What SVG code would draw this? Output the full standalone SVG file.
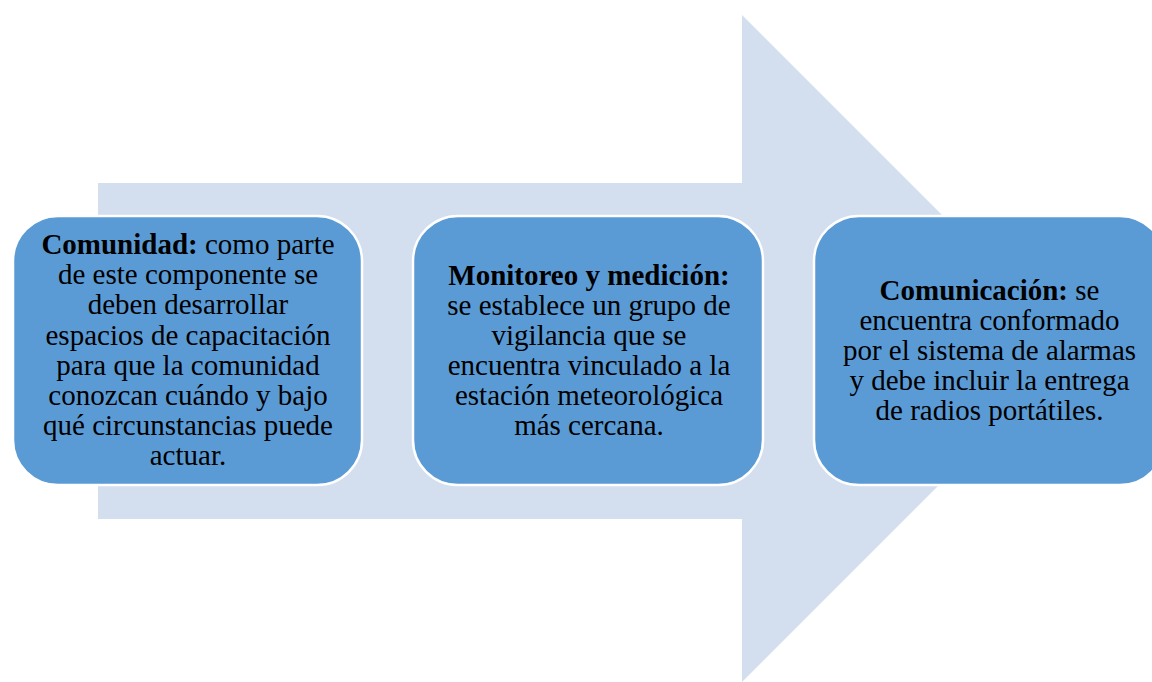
<svg xmlns="http://www.w3.org/2000/svg" width="1152" height="682" viewBox="0 0 1152 682">
<style>
.box{fill:#5B9BD5;stroke:#FFFFFF;stroke-width:2.5}
text{font-family:"Liberation Serif","Times New Roman","DejaVu Serif",serif;font-size:29px;fill:#000;text-anchor:middle}
.b{font-weight:bold}
</style>
<rect width="1152" height="682" fill="#FFFFFF"/>
<g id="arrow">
<path d="M98,183 L742,183 L742,15 L1075.5,348.5 L742,682 L742,519 L98,519 Z" fill="#D3DEEF"/>
</g>
<g id="node1" font-family="Liberation Serif, serif">
<rect class="box" x="13" y="216" width="349" height="269" rx="45" ry="45"/>
<text x="188" y="254"><tspan class="b">Comunidad:</tspan> como parte</text>
<text x="188" y="284">de este componente se</text>
<text x="188" y="314">deben desarrollar</text>
<text x="188" y="344.5">espacios de capacitación</text>
<text x="188" y="374.5">para que la comunidad</text>
<text x="188" y="404.5">conozcan cuándo y bajo</text>
<text x="188" y="435">qué circunstancias puede</text>
<text x="188" y="465">actuar.</text>
</g>
<g id="node2">
<rect class="box" x="413" y="216" width="350" height="269" rx="45" ry="45"/>
<text x="589" y="285"><tspan class="b">Monitoreo y medición:</tspan></text>
<text x="589" y="315">se establece un grupo de</text>
<text x="589" y="345">vigilancia que se</text>
<text x="589" y="375">encuentra vinculado a la</text>
<text x="589" y="405">estación meteorológica</text>
<text x="589" y="435">más cercana.</text>
</g>
<g id="node3">
<rect class="box" x="814" y="216" width="351" height="269" rx="45" ry="45"/>
<text x="989.5" y="300"><tspan class="b">Comunicación:</tspan> se</text>
<text x="989.5" y="330">encuentra conformado</text>
<text x="989.5" y="360">por el sistema de alarmas</text>
<text x="989.5" y="390">y debe incluir la entrega</text>
<text x="989.5" y="420">de radios portátiles.</text>
</g>
<g id="connectors"></g>
</svg>
